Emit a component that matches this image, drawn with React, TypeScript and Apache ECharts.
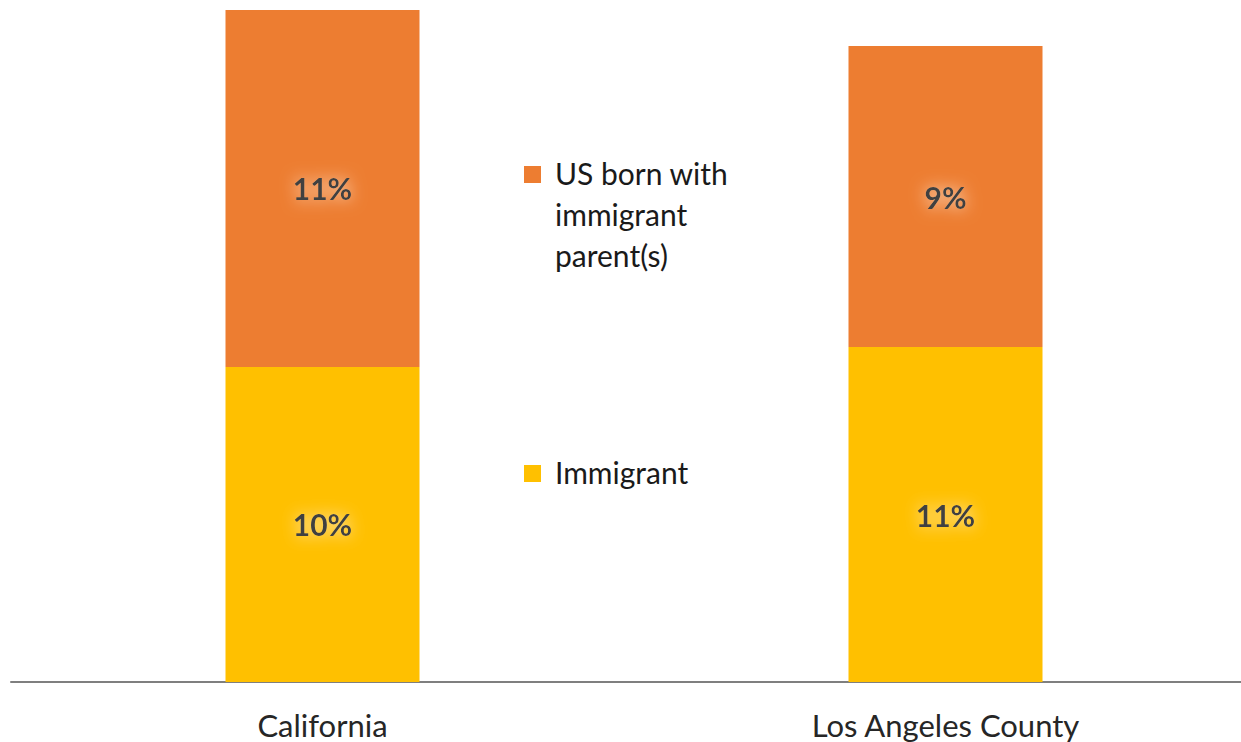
import React, { useEffect, useRef } from "react";
import * as echarts from "echarts";

const categories = ["California", "Los Angeles County"];
const seriesNames = ["Immigrant", "US born with immigrant parent(s)"];
const legendLines = [["Immigrant"], ["US born with", "immigrant", "parent(s)"]];
const immigrantValues = [10.0, 10.63];
const usBornValues = [11.33, 9.56];
const immigrantLabels = ["10%", "11%"];
const usBornLabels = ["11%", "9%"];
const yMax = 21.33;

const FONT = "Lato, 'Noto Sans', 'Liberation Sans', sans-serif";
const COLORS = ["#FFC000", "#ED7D31"];

export default function App() {
  const ref = useRef<HTMLDivElement>(null);
  useEffect(() => {
    if (!ref.current) return;
    const chart = echarts.init(ref.current, undefined, { renderer: "svg" });
    const labelStyle = (texts: string[]) => ({
      show: true,
      position: "inside",
      formatter: (p: any) => texts[p.dataIndex],
      color: "#404040",
      fontSize: 30,
      fontWeight: "bold",
      fontFamily: FONT,
      textShadowColor: "rgba(255,238,220,1)",
      textShadowBlur: 16,
    });
    const legendItem = (idx: number, y: number) => ({
      type: "group",
      x: 524,
      y: y,
      children: [
        {
          type: "rect",
          shape: { x: 0, y: 0, width: 17, height: 17 },
          style: { fill: COLORS[idx] },
        },
        {
          type: "text",
          x: 31,
          y: -14,
          style: {
            text: legendLines[idx].join("\n"),
            fill: "#1a1a1a",
            fontSize: 30,
            fontFamily: FONT,
            lineHeight: 41,
          },
        },
      ],
    });
    chart.setOption({
      animation: false,
      backgroundColor: "#ffffff",
      grid: { left: 11, right: 1, top: 10, bottom: 60, containLabel: false },
      xAxis: {
        type: "category",
        data: categories,
        axisLine: { show: true, lineStyle: { color: "#7f7f7f", width: 2 } },
        axisTick: { show: false },
        axisLabel: {
          color: "#262626",
          fontSize: 31,
          fontFamily: FONT,
          margin: 27,
        },
      },
      yAxis: {
        type: "value",
        min: 0,
        max: yMax,
        show: false,
        splitLine: { show: false },
      },
      graphic: [legendItem(1, 166), legendItem(0, 465)],
      series: [
        {
          name: seriesNames[0],
          type: "bar",
          stack: "total",
          barWidth: 194,
          data: immigrantValues,
          itemStyle: { color: COLORS[0] },
          label: labelStyle(immigrantLabels),
        },
        {
          name: seriesNames[1],
          type: "bar",
          stack: "total",
          barWidth: 194,
          data: usBornValues,
          itemStyle: { color: COLORS[1] },
          label: labelStyle(usBornLabels),
        },
      ],
    });
    return () => chart.dispose();
  }, []);
  return (
    <div
      style={{ position: "fixed", left: 0, top: 0, width: 1241, height: 742, overflow: "hidden", background: "#fff" }}
    >
      <div ref={ref} style={{ width: 1258, height: 742 }} />
    </div>
  );
}
